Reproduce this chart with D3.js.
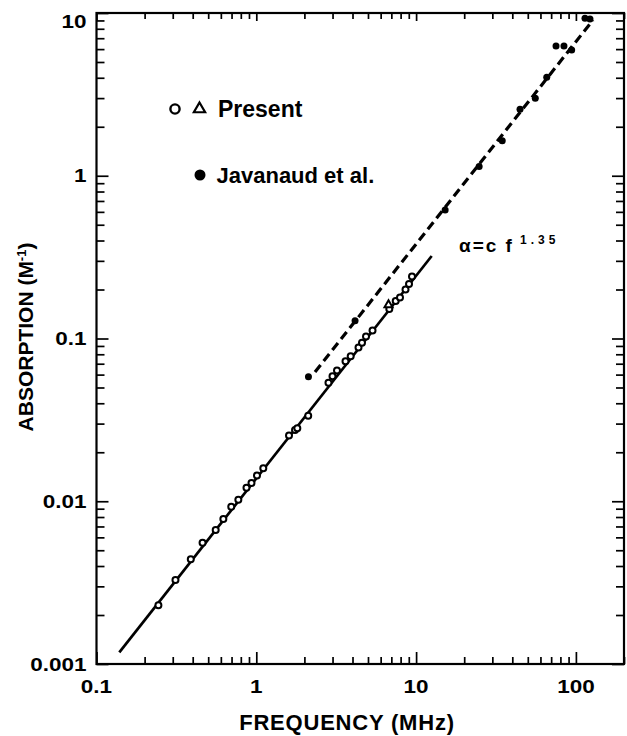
<!DOCTYPE html>
<html>
<head>
<meta charset="utf-8">
<script src="https://cdn.jsdelivr.net/npm/d3@7"></script>
<style>
  body { margin: 0; background: #fff; }
  svg { display: block; }
  text { font-family: "Liberation Sans", Arial, sans-serif; font-weight: bold; fill: #000; }
</style>
</head>
<body>
<div id="wrapper"></div>
<script>
// Present data (open circles), frequency in MHz, absorption in 1/m
const presentFreq = [0.244, 0.312, 0.389, 0.461, 0.557, 0.622, 0.697, 0.772, 0.868, 0.933,
  1.01, 1.106, 1.602, 1.747, 1.806, 2.113, 2.829, 2.998, 3.199, 3.616, 3.896, 4.361,
  4.586, 4.859, 5.337, 6.797, 7.453, 7.93, 8.586, 9.029, 9.426];
const presentAbs = [0.0023, 0.00328, 0.0044, 0.00556, 0.00666, 0.00778, 0.00926, 0.0102, 0.0121, 0.01295,
  0.01439, 0.01594, 0.02535, 0.02741, 0.02807, 0.0335, 0.05352, 0.05856, 0.06358, 0.07254, 0.07772, 0.08806,
  0.0941, 0.1029, 0.112, 0.1518, 0.1699, 0.1786, 0.2, 0.2163, 0.2404];
// Present data (triangles)
const triFreq = [6.72];
const triAbs = [0.161];
// Javanaud et al. (filled dots)
const javFreq = [2.12, 4.15, 15.2, 24.8, 34.6, 44.7, 55.7, 65.7, 75.1, 84.2, 94.1, 114, 122.5];
const javAbs = [0.0583, 0.1286, 0.616, 1.14, 1.64, 2.56, 2.99, 4.03, 6.26, 6.26, 5.93, 9.28, 9.18];
// fitted lines (end points)
const fitFreq = [0.1389, 12.52];
const fitAbs = [0.00118, 0.3214];
const javFitFreq = [2.33, 128];
const javFitAbs = [0.0622, 9.06];
// tick labels
const xTickValues = [0.1, 1, 10, 100];
const xTickLabels = ["0.1", "1", "10", "100"];
const yTickValues = [0.001, 0.01, 0.1, 1, 10];
const yTickLabels = ["0.001", "0.01", "0.1", "1", "10"];

function drawChart() {
  // 1. dimensions
  let dimensions = {
    width: 627,
    height: 736,
    margin: { top: 13, right: 3, bottom: 72, left: 96.5 },
  };
  dimensions.boundedWidth = dimensions.width - dimensions.margin.left - dimensions.margin.right;
  dimensions.boundedHeight = dimensions.height - dimensions.margin.top - dimensions.margin.bottom;

  // 2. canvas
  const wrapper = d3.select("#wrapper")
    .append("svg")
    .attr("width", dimensions.width)
    .attr("height", dimensions.height);

  const bounds = wrapper.append("g")
    .attr("transform", `translate(${dimensions.margin.left},${dimensions.margin.top})`);

  // 3. scales
  const xScale = d3.scaleLog()
    .domain([0.1, 200])
    .range([0, dimensions.boundedWidth]);

  const yScale = d3.scaleLog()
    .domain([0.001, 10])
    .range([dimensions.boundedHeight, 0]);

  // minor ticks 2..9 in each decade
  const minorX = [];
  [0.1, 1, 10, 100].forEach(d => {
    for (let k = 2; k <= 9; k++) if (d * k <= 200) minorX.push(d * k);
  });
  const minorY = [];
  [0.001, 0.01, 0.1, 1].forEach(d => {
    for (let k = 2; k <= 9; k++) minorY.push(d * k);
  });

  // 4. axes (ticks point inward)
  const axisStyle = g => {
    g.select(".domain").remove();
    g.selectAll("line").attr("stroke", "#000").attr("stroke-width", 1.7);
    g.selectAll("text").remove();
  };

  bounds.append("g")
    .attr("transform", `translate(0,${dimensions.boundedHeight})`)
    .call(d3.axisBottom(xScale).tickValues(xTickValues).tickSize(-12))
    .call(axisStyle);
  bounds.append("g")
    .attr("transform", `translate(0,${dimensions.boundedHeight})`)
    .call(d3.axisBottom(xScale).tickValues(minorX).tickSize(-7))
    .call(axisStyle);
  bounds.append("g")
    .call(d3.axisTop(xScale).tickValues(xTickValues).tickSize(-8))
    .call(axisStyle);
  bounds.append("g")
    .call(d3.axisTop(xScale).tickValues(minorX).tickSize(-6))
    .call(axisStyle);

  bounds.append("g")
    .call(d3.axisLeft(yScale).tickValues(yTickValues).tickSize(-12))
    .call(axisStyle);
  bounds.append("g")
    .call(d3.axisLeft(yScale).tickValues(minorY).tickSize(-8))
    .call(axisStyle);
  bounds.append("g")
    .attr("transform", `translate(${dimensions.boundedWidth},0)`)
    .call(d3.axisRight(yScale).tickValues(yTickValues).tickSize(-12))
    .call(axisStyle);
  bounds.append("g")
    .attr("transform", `translate(${dimensions.boundedWidth},0)`)
    .call(d3.axisRight(yScale).tickValues(minorY).tickSize(-8))
    .call(axisStyle);

  // frame
  bounds.append("rect")
    .attr("width", dimensions.boundedWidth)
    .attr("height", dimensions.boundedHeight)
    .attr("fill", "none")
    .attr("stroke", "#000")
    .attr("stroke-width", 2.2);

  // tick labels (stretched wide like the original)
  bounds.append("g").selectAll("text")
    .data(xTickValues)
    .join("text")
    .attr("transform", d => `translate(${xScale(d)},${dimensions.boundedHeight + 29}) scale(1.25,1)`)
    .attr("text-anchor", "middle")
    .style("font-size", "18px")
    .text((d, i) => xTickLabels[i]);

  bounds.append("g").selectAll("text")
    .data(yTickValues)
    .join("text")
    .attr("transform", d => `translate(-10,${Math.max(yScale(d), 8) + 6.5}) scale(1.25,1)`)
    .attr("text-anchor", "end")
    .style("font-size", "18px")
    .text((d, i) => yTickLabels[i]);

  // axis titles
  wrapper.append("text")
    .attr("x", 347)
    .attr("y", 730)
    .attr("text-anchor", "middle")
    .style("font-size", "22px")
    .style("letter-spacing", "0.8px")
    .text("FREQUENCY (MHz)");

  const yLabel = wrapper.append("text")
    .attr("transform", "translate(33,337) rotate(-90)")
    .attr("text-anchor", "middle")
    .style("font-size", "21px");
  yLabel.append("tspan").text("ABSORPTION (M");
  yLabel.append("tspan").attr("dy", -7).style("font-size", "13px").text("-1");
  yLabel.append("tspan").attr("dy", 7).text(")");

  // 5. lines
  const lineGen = d3.line()
    .x(d => xScale(d[0]))
    .y(d => yScale(d[1]));

  bounds.append("path")
    .datum(fitFreq.map((f, i) => [f, fitAbs[i]]))
    .attr("d", lineGen)
    .attr("fill", "none")
    .attr("stroke", "#000")
    .attr("stroke-width", 2.7);

  bounds.append("path")
    .datum(javFitFreq.map((f, i) => [f, javFitAbs[i]]))
    .attr("d", lineGen)
    .attr("fill", "none")
    .attr("stroke", "#000")
    .attr("stroke-width", 3.2)
    .attr("stroke-dasharray", "9,5");

  // 6. points
  bounds.append("g").selectAll("circle")
    .data(presentFreq.map((f, i) => [f, presentAbs[i]]))
    .join("circle")
    .attr("cx", d => xScale(d[0]))
    .attr("cy", d => yScale(d[1]))
    .attr("r", 3)
    .attr("fill", "#fff")
    .attr("stroke", "#000")
    .attr("stroke-width", 2);

  const triangle = d3.symbol().type(d3.symbolTriangle).size(28);
  bounds.append("g").selectAll("path")
    .data(triFreq.map((f, i) => [f, triAbs[i]]))
    .join("path")
    .attr("transform", d => `translate(${xScale(d[0])},${yScale(d[1])})`)
    .attr("d", triangle)
    .attr("fill", "#fff")
    .attr("stroke", "#000")
    .attr("stroke-width", 2);

  bounds.append("g").selectAll("circle")
    .data(javFreq.map((f, i) => [f, javAbs[i]]))
    .join("circle")
    .attr("cx", d => xScale(d[0]))
    .attr("cy", d => yScale(d[1]))
    .attr("r", 3.5)
    .attr("fill", "#000");

  // 7. legend + annotation
  const legend = wrapper.append("g");
  legend.append("circle")
    .attr("cx", 175).attr("cy", 109).attr("r", 4.6)
    .attr("fill", "none").attr("stroke", "#000").attr("stroke-width", 2.4);
  legend.append("path")
    .attr("transform", "translate(199.5,109)")
    .attr("d", d3.symbol().type(d3.symbolTriangle).size(55))
    .attr("fill", "none").attr("stroke", "#000").attr("stroke-width", 2.2);
  legend.append("text")
    .attr("x", 218).attr("y", 116.5)
    .style("font-size", "23px")
    .text("Present");
  legend.append("circle")
    .attr("cx", 200).attr("cy", 175).attr("r", 5.5)
    .attr("fill", "#000");
  legend.append("text")
    .attr("x", 216.5).attr("y", 183)
    .style("font-size", "22px")
    .text("Javanaud et al.");

  const note = wrapper.append("text")
    .attr("x", 459).attr("y", 252)
    .style("font-size", "19px")
    .style("letter-spacing", "2px");
  note.append("tspan").text("α=c f");
  note.append("tspan")
    .attr("dx", 6).attr("dy", -8)
    .style("font-size", "12px")
    .style("letter-spacing", "4px")
    .text("1.35");
}
drawChart();
</script>
</body>
</html>
